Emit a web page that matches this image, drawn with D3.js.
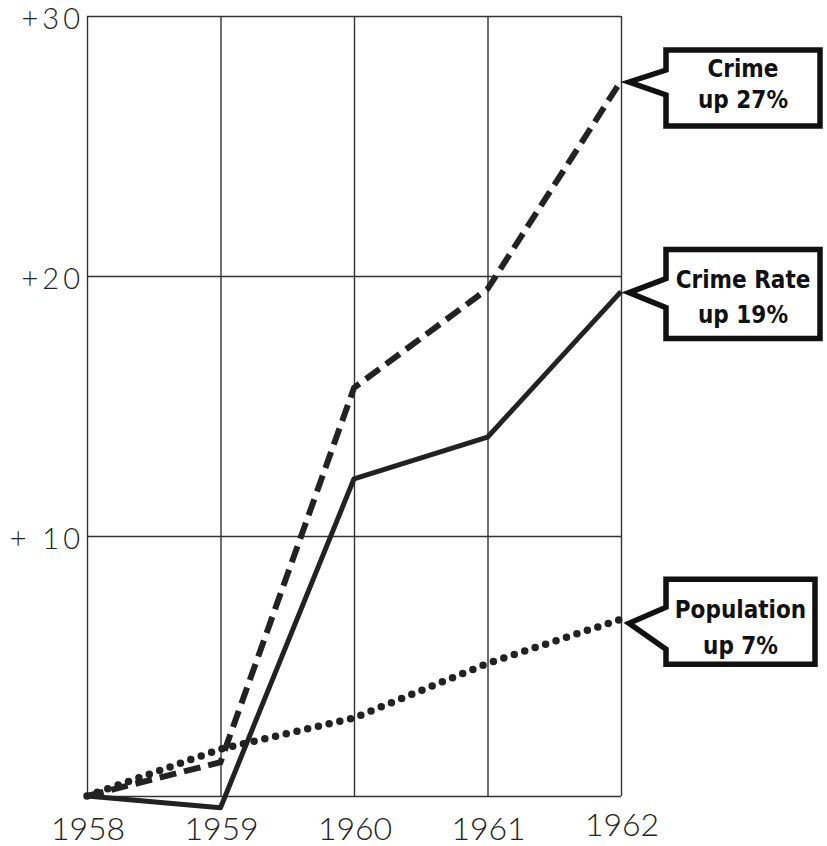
<html>
<head>
	<meta charset="utf-8">
	<script src="https://d3js.org/d3.v7.min.js"></script>
	<style>
		body { margin: 0; background: white; }
		.num { font-family: Lato, "DejaVu Sans", sans-serif; font-weight: 300; font-size: 32px; fill: #222; }
		.ynum { font-size: 29px; letter-spacing: 4px; }
		.note { font-family: "Liberation Sans Narrow", "DejaVu Sans Condensed", sans-serif; font-weight: bold; font-size: 24px; fill: #111; }
	</style>
</head>
<body>
	<div id="output"></div>
	<script>
		// chart data
		var years = [1958, 1959, 1960, 1961, 1962];
		var crime = [0, 1.3, 15.7, 19.5, 27.5];
		var crimeRate = [0, -0.45, 12.2, 13.8, 19.4];
		var population = [0, 1.8, 3.0, 5.1, 6.8];
		var yTicks = [10, 20, 30];
		var yTickLabels = ["+ 10", "+20", "+30"];
		var xTickLabels = ["1958", "1959", "1960", "1961", "1962"];
		var noteLines = [["Crime", "up 27%"], ["Crime  Rate", "up 19%"], ["Population", "up 7%"]];

		var svg = d3.select("#output")
			.append("svg")
			.attr("width", 827)
			.attr("height", 846);

		var x = d3.scaleLinear().domain([1958, 1962]).range([87, 621]);
		var y = d3.scaleLinear().domain([0, 30]).range([796, 16]);

		// grid
		svg.append("g")
			.attr("transform", "translate(0,796)")
			.call(d3.axisBottom(x).tickValues(years).tickSize(-780).tickFormat(""))
			.call(g => g.select(".domain").remove());
		svg.append("g")
			.attr("transform", "translate(87,0)")
			.call(d3.axisLeft(y).tickValues([0].concat(yTicks)).tickSize(-534).tickFormat(""))
			.call(g => g.select(".domain").remove());
		svg.selectAll(".tick line")
			.attr("stroke", "#333")
			.attr("stroke-width", 1.4);

		// tick labels
		svg.selectAll(".ylab")
			.data(yTicks)
			.enter().append("text")
			.attr("class", "num ynum")
			.attr("x", 84)
			.attr("y", d => y(d) + 13)
			.attr("text-anchor", "end")
			.text((d, i) => yTickLabels[i]);
		svg.selectAll(".xlab")
			.data(years)
			.enter().append("text")
			.attr("class", "num")
			.attr("x", d => x(d) + 1)
			.attr("y", (d, i) => i == 4 ? 836 : 840)
			.attr("text-anchor", "middle")
			.text((d, i) => xTickLabels[i]);

		// series
		var line = d3.line()
			.x((d, i) => x(years[i]))
			.y(d => y(d));

		svg.append("path")
			.datum(population)
			.attr("d", line)
			.attr("fill", "none")
			.attr("stroke", "#222")
			.attr("stroke-width", 7.5)
			.attr("stroke-linecap", "round")
			.attr("stroke-dasharray", "0 11");
		svg.append("path")
			.datum(crimeRate)
			.attr("d", line)
			.attr("fill", "none")
			.attr("stroke", "#222")
			.attr("stroke-width", 5)
			.attr("stroke-linejoin", "round");
		svg.append("path")
			.datum(crime)
			.attr("d", line)
			.attr("fill", "none")
			.attr("stroke", "#222")
			.attr("stroke-width", 6)
			.attr("stroke-dasharray", "17 8");

		// callout boxes, placed from the 1962 value of each series
		var ends = [crime[4], crimeRate[4], population[4]];
		var boxes = [
			{ top: -32, bottom: 44, right: 820, baseTop: -12, baseBottom: 13, textDy: -11, gap: 31 },
			{ top: -43, bottom: 46, right: 820, baseTop: -14, baseBottom: 15, textDy: -6, gap: 35 },
			{ top: -44, bottom: 41, right: 815, baseTop: -16, baseBottom: 26, textDy: -4, gap: 36 }
		];
		var tipDy = [1, 1, 4];

		ends.forEach(function(v, i) {
			var b = boxes[i];
			var cy = y(v) + tipDy[i];
			var tipX = x(1962) + 8;
			var L = tipX + 37;
			var path = d3.path();
			path.moveTo(L, cy + b.top);
			path.lineTo(b.right, cy + b.top);
			path.lineTo(b.right, cy + b.bottom);
			path.lineTo(L, cy + b.bottom);
			path.lineTo(L, cy + b.baseBottom);
			path.lineTo(tipX, cy);
			path.lineTo(L, cy + b.baseTop);
			path.closePath();
			svg.append("path")
				.attr("d", path.toString())
				.attr("fill", "white")
				.attr("stroke", "#111")
				.attr("stroke-width", 5.5)
				.attr("stroke-linejoin", "miter");
			var mid = (L + b.right) / 2;
			var boxMid = cy + (b.top + b.bottom) / 2;
			noteLines[i].forEach(function(t, j) {
				svg.append("text")
					.attr("class", "note")
					.attr("x", mid)
					.attr("y", boxMid + b.textDy + j * b.gap)
					.attr("text-anchor", "middle")
					.text(t);
			});
		});
	</script>
</body>
</html>
